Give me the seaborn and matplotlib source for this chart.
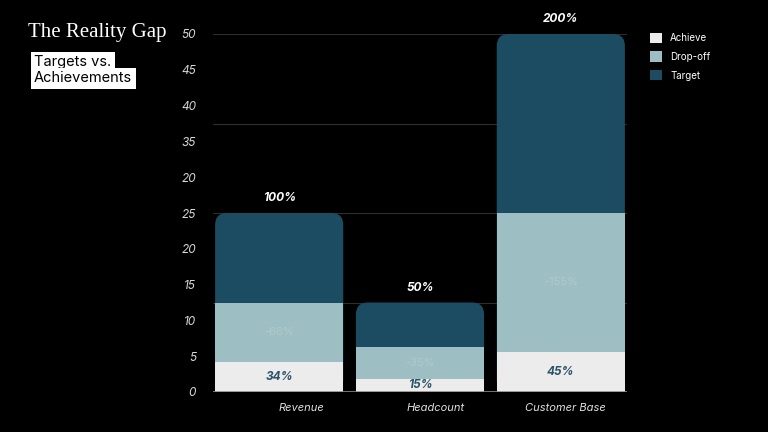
import matplotlib
matplotlib.use("Agg")
import matplotlib.pyplot as plt
import seaborn as sns
from matplotlib.patches import FancyBboxPatch, Patch

# data
categories = ["Revenue", "Headcount", "Customer Base"]
achieve = [4.25, 1.875, 5.625]
drop_off = [8.25, 4.375, 19.375]
target = [12.5, 6.25, 25.0]
achieve_labels = ["34%", "15%", "45%"]
drop_labels = ["-66%", "-35%", "-155%"]
total_labels = ["100%", "50%", "200%"]
y_ticks = [0, 5, 10, 15, 20, 25, 30, 35, 40, 45, 50]
y_tick_labels = ["0", "5", "10", "15", "20", "25", "20", "35", "40", "45", "50"]

C_ACH = "#ececec"
C_DROP = "#9dbfc3"
C_TGT = "#1b4c62"

sns.set_theme(style="dark")
plt.rcParams["font.family"] = ["Inter", "DejaVu Sans"]

fig = plt.figure(figsize=(7.68, 4.32), dpi=100, facecolor="black")
ax = fig.add_axes([213 / 768, 40 / 432, 414 / 768, 358 / 432])
ax.set_facecolor("black")

mid = [a + d for a, d in zip(achieve, drop_off)]
total = [m + t for m, t in zip(mid, target)]

for g in [12.5, 25, 37.5, 50]:
    ax.axhline(g, color="#2e2e2e", lw=0.8, zorder=0)

sns.barplot(x=categories, y=total, color=C_TGT, width=0.91,
            saturation=1, linewidth=0, ax=ax, zorder=2)
n = len(categories)
tgt_patches = list(ax.patches[:n])
sns.barplot(x=categories, y=mid, color=C_DROP, width=0.91,
            saturation=1, linewidth=0, ax=ax, zorder=3)
sns.barplot(x=categories, y=achieve, color=C_ACH, width=0.91,
            saturation=1, linewidth=0, ax=ax, zorder=4)

ax.set_xlim(-0.47, 2.47)
ax.set_ylim(0, 50)

# rounded tops for the target bars
fig.canvas.draw()
px_x = ax.transData.transform((1, 0))[0] - ax.transData.transform((0, 0))[0]
px_y = ax.transData.transform((0, 1))[1] - ax.transData.transform((0, 0))[1]
r = 12 / px_x
for p in tgt_patches:
    x0, w, h = p.get_x(), p.get_width(), p.get_height()
    p.remove()
    box = FancyBboxPatch((x0, 0), w, h,
                         boxstyle=f"round,pad=0,rounding_size={r}",
                         mutation_aspect=px_x / px_y,
                         fc=C_TGT, ec="none", zorder=2)
    ax.add_patch(box)

for i in range(n):
    ax.text(i, total[i] + 1.2, total_labels[i], ha="center", va="bottom",
            color="white", fontsize=8.5, fontweight="bold", style="italic",
            clip_on=False, zorder=6)
    ax.text(i, achieve[i] / 2, achieve_labels[i], ha="center", va="center",
            color="#2a5468", fontsize=8.5, fontweight="bold", style="italic",
            zorder=6)
    ax.text(i, achieve[i] + drop_off[i] / 2, drop_labels[i], ha="center",
            va="center", color="#b0c9cc", fontsize=8, zorder=6)
    # category labels sit right-aligned near the bar's right half
    ax.text(i + 0.32, -2.3, categories[i], ha="right", va="center",
            color="#e0e0e0", fontsize=8, style="italic", clip_on=False)

ax.axhline(0, color="#8a8a8a", lw=1.2, zorder=5)

ax.set_yticks(y_ticks)
ax.set_yticklabels(y_tick_labels, color="#d8d8d8", fontsize=8.5,
                   style="italic")
ax.tick_params(axis="y", length=0, pad=12)
ax.set_xticks([])
ax.set_xlabel("")
for s in ax.spines.values():
    s.set_visible(False)
ax.grid(False)

fig.text(28 / 768, 1 - 33 / 432, "The Reality Gap", color="white",
         fontsize=15, family=["Liberation Serif", "DejaVu Serif"],
         ha="left", va="center")
box_kw = dict(facecolor="white", edgecolor="none", pad=2.5)
fig.text(34 / 768, 1 - 62 / 432, "Targets vs.", color="black", fontsize=10.5,
         ha="left", va="center", bbox=box_kw)
fig.text(34 / 768, 1 - 78 / 432, "Achievements", color="black",
         fontsize=10.5, ha="left", va="center", bbox=box_kw)

handles = [Patch(fc=C_ACH, ec="none"), Patch(fc=C_DROP, ec="none"),
           Patch(fc=C_TGT, ec="none")]
leg = fig.legend(handles, ["Achieve", "Drop-off", "Target"],
                 loc="upper left", bbox_to_anchor=(641 / 768, 1 - 24 / 432),
                 frameon=False, fontsize=7, labelcolor="white",
                 handlelength=1.25, handleheight=1.25, labelspacing=0.85,
                 handletextpad=0.85)

fig.savefig("out.png", dpi=100, facecolor="black")
